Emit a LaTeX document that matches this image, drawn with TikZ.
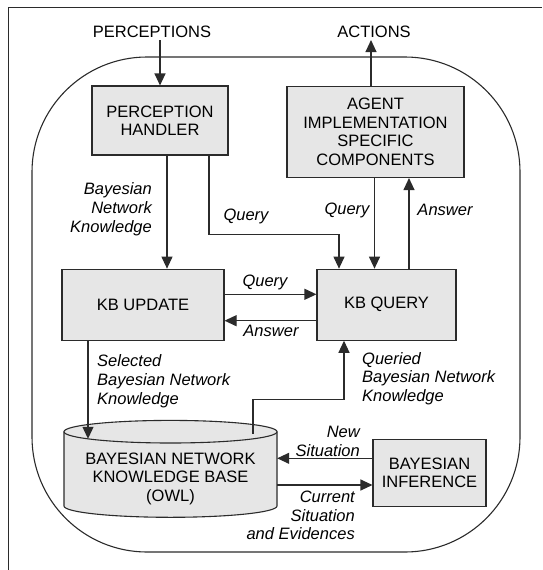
\documentclass[tikz,border=0pt]{standalone}
\usepackage{fontspec}
\setmainfont{Liberation Sans}
\usetikzlibrary{arrows.meta,calc}
\newcommand\boxfont{\fontsize{16.5}{18.5}\selectfont}
\newcommand\labfont{\fontsize{16.5}{18.8}\selectfont\itshape}
\definecolor{linegray}{HTML}{2B2B2B}
\definecolor{boxgray}{HTML}{E6E6E6}
\begin{document}
\begin{tikzpicture}[x=1pt,y=-1pt,
  box/.style={draw=linegray, fill=boxgray, line width=1.1pt, align=center,
    font=\boxfont, inner sep=0pt},
  plain/.style={font=\boxfont, inner sep=2pt},
  lbl/.style={font=\labfont, inner sep=0pt},
  arr/.style={draw=linegray, line width=1.1pt, -{Triangle[length=12pt,width=11pt]}},
  ln/.style={draw=linegray, line width=1.1pt}
]
\useasboundingbox (0,0) rectangle (542,570);

% page frame
\draw[ln, line width=1pt] (8,570) -- (8,7) -- (542,7);

% agent boundary
\draw[ln, rounded corners=115pt] (32,57) rectangle (520,552);

% components
\node[box, minimum width=136pt, minimum height=69pt] (ph) at (160,120.5) {PERCEPTION\\HANDLER};
\node[box, minimum width=177pt, minimum height=91pt] (ag) at (375.5,132) {AGENT\\IMPLEMENTATION\\SPECIFIC\\COMPONENTS};
\node[box, minimum width=162pt, minimum height=71pt] (upd) at (143,304.7) {KB UPDATE};
\node[box, minimum width=139pt, minimum height=71pt] (qry) at (386.5,304.7) {KB QUERY};
\node[box, minimum width=113pt, minimum height=67pt] (bi) at (429.5,472.7) {BAYESIAN\\INFERENCE};

% knowledge base cylinder
\filldraw[ln, fill=boxgray] (64,431.7) -- (64,506)
  arc[start angle=180, end angle=0, x radius=106.5, y radius=11.3] -- (277,431.7);
\filldraw[ln, fill=boxgray] (170.5,431.7) ellipse[x radius=106.5, y radius=11.3];
\node[align=center, font=\boxfont, inner sep=0pt, minimum width=213pt, minimum height=76pt] (kb) at (170.5,478.7)
  {BAYESIAN NETWORK\\KNOWLEDGE BASE\\(OWL)};
\coordinate (kbin) at (88,438.8);
\coordinate (kbout) at (253,433.5);

% inputs and outputs
\node[plain] (perc) at (152,32) {PERCEPTIONS};
\node[plain] (act) at (374,32) {ACTIONS};
\draw[arr] (ph.north |- perc.south) -- (ph.north);
\draw[arr] ([xshift=-4.5pt]ag.north) -- ([xshift=-4.5pt]ag.north |- act.south);

% connectors
\draw[arr] ([xshift=7pt]ph.south) -- ([xshift=7pt]ph.south |- upd.north);
\draw[arr] ([xshift=49pt]ph.south) -- ++(0,79) -| ([xshift=-47.5pt]qry.north);
\draw[arr] ([xshift=-1pt]ag.south) -- ([xshift=-1pt]ag.south |- qry.north);
\draw[arr] ([xshift=22.5pt]qry.north) -- ([xshift=22.5pt]qry.north |- ag.south);
\draw[arr] ([yshift=10.4pt]upd.east) -- ([yshift=10.4pt]qry.west);
\draw[arr] ([yshift=-16pt]qry.west) -- ([yshift=-16pt]upd.east);
\draw[arr] ([xshift=-55pt]upd.south) -- (kbin);
\draw[arr] (kbout) -- ++(0,-34.2) -| ([xshift=-42.5pt]qry.south);
\draw[arr] ([yshift=14.4pt]bi.west) -- ([yshift=14.4pt]bi.west -| kb.east);
\draw[arr] ([yshift=-12.3pt]bi.west -| kb.east) -- ([yshift=-12.3pt]bi.west);

% connector labels
\node[lbl, anchor=east, align=right] (lbnk) at (152,209.5) {Bayesian\\Network\\Knowledge};
\node[lbl] (lq1) at (246,216) {Query};
\node[lbl] (lq2) at (347,210) {Query};
\node[lbl] (la1) at (445,210) {Answer};
\node[lbl] (lq3) at (265,282.7) {Query};
\node[lbl] (la2) at (271,330.7) {Answer};
\node[lbl, anchor=west, align=left] (lsel) at (97,381) {Selected\\Bayesian Network\\Knowledge};
\node[lbl, anchor=west, align=left] (lqry) at (362,378.7) {Queried\\Bayesian Network\\Knowledge};
\node[lbl, anchor=east, align=right] (lnew) at (360,441) {New\\Situation};
\node[lbl, anchor=east, align=right] (lcur) at (355,515.5) {Current\\Situation\\and Evidences};
\end{tikzpicture}
\end{document}
